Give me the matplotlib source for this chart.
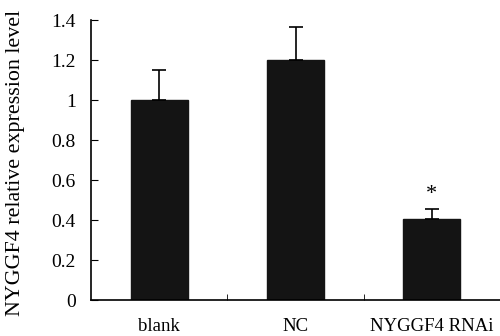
import numpy as np
import matplotlib.pyplot as plt

plt.rcParams['font.family'] = ['Liberation Serif', 'DejaVu Serif']

groups = ['blank', 'NC', 'NYGGF4 RNAi']
values = [1.0, 1.2, 0.405]
errors = [0.15, 0.165, 0.05]
marks = ['', '', '*']

fig = plt.figure(figsize=(5, 3.36), dpi=100)
ax = fig.add_axes([0.182, 0.107, 0.818, 0.833])

x = np.arange(len(groups))
ax.bar(x, values, width=0.42, color='#141414', edgecolor='#141414', zorder=2)
ax.errorbar(x, values, yerr=[np.zeros(len(errors)), errors], fmt='none',
            ecolor='black', elinewidth=1.2, capsize=5, capthick=1.2, zorder=3)
for xi, v, e, m in zip(x, values, errors, marks):
    if m:
        ax.text(xi, v + e + 0.025, m, ha='center', va='bottom', fontsize=16)

ax.set_xlim(-0.5, 2.5)
ax.set_ylim(0, 1.4)
ax.set_yticks(np.arange(0, 1.41, 0.2))
ax.set_yticklabels(['0', '0.2', '0.4', '0.6', '0.8', '1', '1.2', '1.4'])
ax.set_xticks(x)
ax.set_xticklabels(groups)
ax.set_xticks([0.5, 1.5], minor=True)
ax.tick_params(axis='x', which='major', length=0, pad=13, labelsize=13.5)
ax.tick_params(axis='x', which='minor', direction='in', length=4)
ax.tick_params(axis='y', direction='in', length=5, labelsize=14, pad=11)
ax.set_ylabel('NYGGF4 relative expression level', fontsize=15.8)
ax.yaxis.set_label_coords(-0.162, 0.49)

for s in ['top', 'right']:
    ax.spines[s].set_visible(False)
ax.spines['left'].set_linewidth(1.2)
ax.spines['bottom'].set_linewidth(1.2)

fig.savefig('out.png', dpi=100)
